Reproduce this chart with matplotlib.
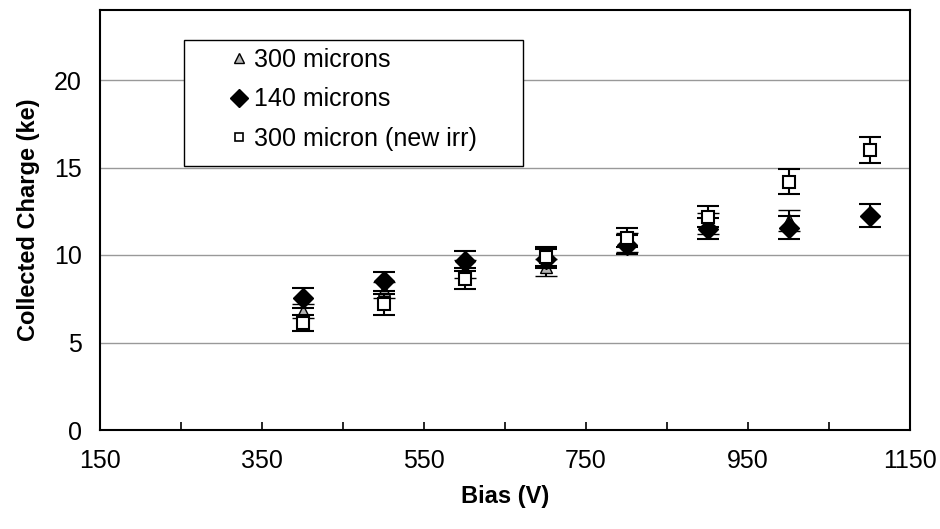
import numpy as np
import matplotlib.pyplot as plt
from matplotlib.lines import Line2D
from matplotlib.patches import Rectangle

plt.rcParams['font.family'] = ['Liberation Sans', 'DejaVu Sans']

# Bias voltage (V)
bias = [400, 500, 600, 700, 800, 900, 1000, 1100]

# 300 microns
q300 = [6.8, 8.0, 9.2, 9.3, 10.7, 11.8, 12.0]
err300 = [0.4, 0.45, 0.5, 0.5, 0.55, 0.6, 0.6]

# 140 microns
q140 = [7.55, 8.5, 9.65, 9.8, 10.6, 11.5, 11.55, 12.25]
err140 = [0.55, 0.55, 0.55, 0.55, 0.55, 0.6, 0.65, 0.65]

# 300 micron (new irr)
qnew = [6.1, 7.2, 8.65, 9.9, 11.0, 12.2, 14.2, 16.0]
errnew = [0.45, 0.6, 0.6, 0.55, 0.55, 0.6, 0.7, 0.75]

labels = ['300 microns', '140 microns', '300 micron (new irr)']

fig = plt.figure(figsize=(9.4, 5.29), dpi=100)
ax = fig.add_axes([100 / 940, 1 - 430 / 529, 810 / 940, 420 / 529])

ax.errorbar(bias[:7], q300, yerr=err300, fmt='^', ms=9, mfc='#b4b4b4', mec='black',
            mew=1, ecolor='black', elinewidth=1.5, capsize=8, capthick=1.5, zorder=3)
ax.errorbar(bias, q140, yerr=err140, fmt='D', ms=10, mfc='black', mec='black',
            ecolor='black', elinewidth=1.5, capsize=8, capthick=1.5, zorder=4)
ax.errorbar(bias, qnew, yerr=errnew, fmt='s', ms=8, mfc='white', mec='black',
            mew=1.5, ecolor='black', elinewidth=1.5, capsize=8, capthick=1.5, zorder=5)

ax.set_xlim(150, 1150)
ax.set_ylim(0, 24)
ax.set_xticks(np.arange(150, 1151, 200))
ax.set_xticks(np.arange(250, 1051, 200), minor=True)
ax.set_yticks([0, 5, 10, 15, 20])
ax.yaxis.grid(True, color='#999999', lw=1)
ax.set_axisbelow(True)

ax.tick_params(axis='x', which='both', direction='in', length=6, width=1.2, labelsize=18, pad=14)
ax.tick_params(axis='y', length=0, labelsize=18, pad=13)
for s in ax.spines.values():
    s.set_linewidth(1.5)

ax.set_xlabel('Bias (V)', fontsize=17, fontweight='bold', labelpad=8)
ax.set_ylabel('Collected Charge (ke)', fontsize=17, fontweight='bold', labelpad=10)

# legend box
fig.patches.append(Rectangle((184 / 940, 1 - 166 / 529), 339 / 940, 126 / 529,
                             transform=fig.transFigure, fill=True, facecolor='white',
                             edgecolor='black', lw=1, zorder=10))
handles = [
    Line2D([], [], ls='none', marker='^', ms=7, mfc='#b4b4b4', mec='black'),
    Line2D([], [], ls='none', marker='D', ms=9, mfc='black', mec='black'),
    Line2D([], [], ls='none', marker='s', ms=6, mfc='white', mec='black', mew=1.2),
]
leg = fig.legend(handles, labels, loc='upper left', bbox_to_anchor=(231 / 940, 1 - 48 / 529),
                 frameon=False, fontsize=18, handlelength=0.6, handletextpad=0.34,
                 labelspacing=0.62, borderpad=0, borderaxespad=0)
leg.set_zorder(11)

fig.savefig('out.png', dpi=100)
